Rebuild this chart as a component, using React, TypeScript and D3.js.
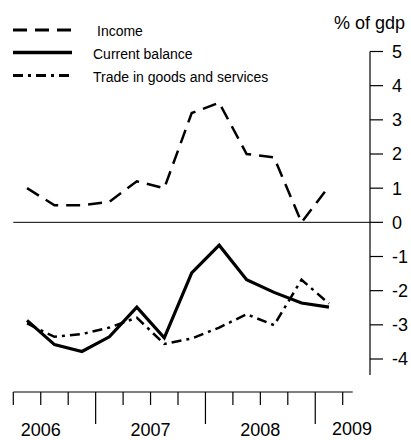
import React from "react";
import * as d3 from "d3";

const quarters = ["2006Q2","2006Q3","2006Q4","2007Q1","2007Q2","2007Q3","2007Q4","2008Q1","2008Q2","2008Q3","2008Q4","2009Q1"];
const income = [1.0, 0.5, 0.5, 0.6, 1.2, 1.0, 3.2, 3.5, 2.0, 1.9, 0.0, 1.05];
const currentBalance = [-2.87, -3.58, -3.78, -3.35, -2.48, -3.38, -1.48, -0.67, -1.68, -2.05, -2.36, -2.48];
const trade = [-2.96, -3.35, -3.27, -3.08, -2.79, -3.56, -3.4, -3.08, -2.69, -3.01, -1.68, -2.38];
const yTicks = [5, 4, 3, 2, 1, 0, -1, -2, -3, -4];
const yearLabels = ["2006", "2007", "2008", "2009"];
const yearCenters = [1, 5, 9, 13]; // quarter-boundary index of year centre
const majorTicks = [3, 7, 11];

const seriesDefs = [
  { name: "Income", values: income, dash: "14,8", width: 2.5 },
  { name: "Current balance", values: currentBalance, dash: "", width: 3.2 },
  { name: "Trade in goods and services", values: trade, dash: "10,5,3,5", width: 2.5 },
];

const FONT = "'Liberation Sans', Arial, Helvetica, sans-serif";

export default function App() {
  const W = 411, H = 440;
  const x = d3.scaleLinear().domain([0, quarters.length]).range([13.3, 342.7]);
  const y = d3.scaleLinear().domain([-4, 5]).range([359, 51.5]);
  const axisX = 370;
  const axisY = 392;

  const line = d3
    .line<number>()
    .x((_, i) => x(i + 0.5))
    .y((d) => y(d));

  const tickIdx = d3.range(0, quarters.length + 1);

  return (
    <svg
      width={W}
      height={H}
      style={{ position: "absolute", left: 0, top: 0, background: "#fff" }}
      fontFamily={FONT}
    >
      {/* zero line */}
      <line x1={x(0)} x2={axisX} y1={y(0)} y2={y(0)} stroke="#000" strokeWidth={1} />

      {/* y axis */}
      <line x1={axisX} x2={axisX} y1={y(5)} y2={y(-4.47)} stroke="#000" strokeWidth={1.2} />
      {yTicks.map((t) => (
        <g key={t}>
          <line x1={axisX} x2={axisX + 13} y1={y(t)} y2={y(t)} stroke="#000" strokeWidth={1.2} />
          <text x={axisX + 22} y={y(t)} dy="0.36em" fontSize={18} fill="#000">
            {t < 0 ? "-" + Math.abs(t) : String(t)}
          </text>
        </g>
      ))}
      <text x={405} y={29} fontSize={18} textAnchor="end" fill="#000">% of gdp</text>

      {/* x axis */}
      <line x1={x(0)} x2={x(quarters.length) + 10} y1={axisY} y2={axisY} stroke="#000" strokeWidth={1.2} />
      {tickIdx.map((i) => (
        <line
          key={i}
          x1={x(i)}
          x2={x(i)}
          y1={axisY}
          y2={majorTicks.includes(i) ? axisY + 32 : axisY + 13}
          stroke="#000"
          strokeWidth={1.2}
        />
      ))}
      {yearLabels.map((lab, k) => {
        const cx = Math.min(x(yearCenters[k]), 352);
        const last = k === yearLabels.length - 1;
        return (
          <text key={lab} x={cx} y={last ? 434.5 : 436} fontSize={18} textAnchor="middle" fill="#000">
            {lab}
          </text>
        );
      })}

      {/* series */}
      {seriesDefs.map((s) => (
        <path
          key={s.name}
          d={line(s.values) || ""}
          fill="none"
          stroke="#000"
          strokeWidth={s.width}
          strokeDasharray={s.dash || undefined}
          strokeLinejoin="miter"
        />
      ))}

      {/* legend */}
      {seriesDefs.map((s, k) => {
        const ly = [30, 52.5, 75.5][k];
        return (
          <g key={s.name}>
            <line
              x1={13}
              x2={72}
              y1={ly}
              y2={ly}
              stroke="#000"
              strokeWidth={s.width + 0.5}
              strokeDasharray={s.dash || undefined}
            />
            <text x={k === 0 ? 97 : 93} y={ly + 1} dy="0.36em" fontSize={14} fill="#000">
              {s.name}
            </text>
          </g>
        );
      })}
    </svg>
  );
}
